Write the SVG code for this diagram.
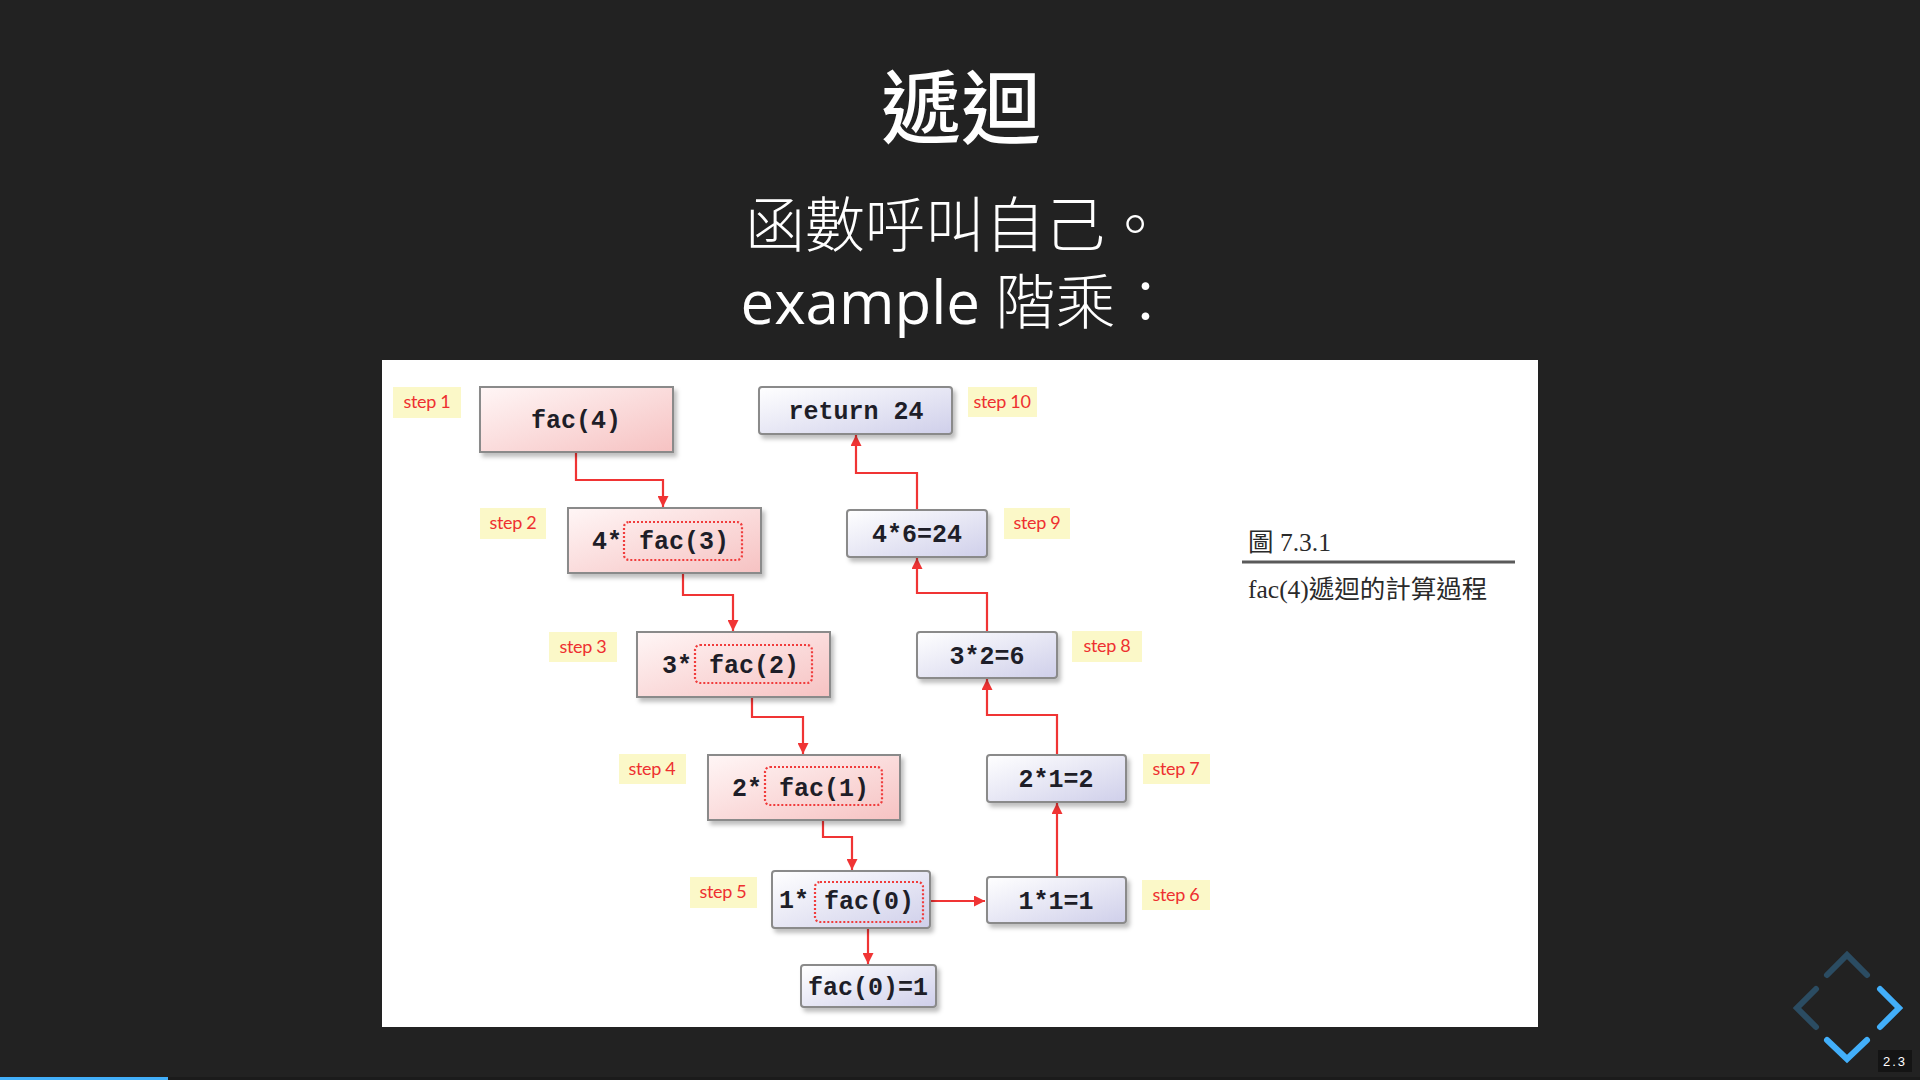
<svg xmlns="http://www.w3.org/2000/svg" width="1920" height="1080" viewBox="0 0 1920 1080">
  <defs>
    <style>
      .title { font-family: "Noto Sans CJK TC", "Noto Sans CJK SC", sans-serif; fill: #ffffff; }
      .sub { font-family: "Open Sans", "Noto Sans CJK TC", sans-serif; fill: #ffffff; font-size: 60px; }
      .thin { font-weight: 300; }
      .box-pink { fill: url(#gPink); stroke: #8a8a8a; stroke-width: 2; filter: url(#shadow); }
      .box-blue { fill: url(#gBlue); stroke: #8a8a8a; stroke-width: 2; filter: url(#shadow); }
      .inner { fill: none; stroke: #f03c3c; stroke-width: 2.2; stroke-dasharray: 2 2; }
      .code { font-family: "Liberation Mono", "Courier New", monospace; font-weight: bold; font-size: 25px; fill: #1e1e28; }
      .mid { text-anchor: middle; }
      .step-bg { fill: #fbf8c8; }
      .step { font-family: Lato, "Liberation Sans", sans-serif; font-size: 18px; fill: #ee3030; text-anchor: middle; letter-spacing: -0.3px; }
      .wire { fill: none; stroke: #f03434; stroke-width: 2.2; marker-end: url(#arrow); }
      .cap { font-family: "Liberation Serif", "Noto Sans CJK TC", serif; font-size: 25.5px; fill: #2a2a2a; }
      .nav { fill: none; stroke: #42affa; stroke-width: 6; stroke-linecap: round; stroke-linejoin: miter; }
    </style>
    <linearGradient id="gPink" x1="0" y1="0" x2="1" y2="1">
      <stop offset="0" stop-color="#fff6f6"/>
      <stop offset="1" stop-color="#f6c2c2"/>
    </linearGradient>
    <linearGradient id="gBlue" x1="0" y1="0" x2="1" y2="1">
      <stop offset="0" stop-color="#ffffff"/>
      <stop offset="1" stop-color="#cfcfea"/>
    </linearGradient>
    <filter id="shadow" x="-10%" y="-20%" width="130%" height="160%">
      <feDropShadow dx="3" dy="4" stdDeviation="2" flood-color="#000" flood-opacity="0.25"/>
    </filter>
    <marker id="arrow" viewBox="0 0 10 10" refX="10" refY="5" markerWidth="11" markerHeight="11" markerUnits="userSpaceOnUse" orient="auto">
      <path d="M0,0 L10,5 L0,10 z" fill="#f03434"/>
    </marker>
  </defs>

  <!-- slide background -->
  <rect width="1920" height="1080" fill="#222222"/>

  <!-- heading -->
  <text class="title" x="961" y="137" font-size="80" font-weight="500" text-anchor="middle">遞迴</text>
  <text class="sub thin" x="955" y="247" text-anchor="middle">函數呼叫自己。</text>
  <text class="sub" x="958" y="324" text-anchor="middle">example <tspan class="thin">階乘：</tspan></text>

  <!-- figure panel -->
  <rect x="382" y="360" width="1156" height="667" fill="#ffffff"/>

  <!-- connectors -->
  <g id="connectors">
    <path class="wire" d="M576,452 V480 H663 V507"/>
    <path class="wire" d="M683,560 V595 H733 V631"/>
    <path class="wire" d="M752,683 V717 H803 V754"/>
    <path class="wire" d="M823,805 V837 H852 V870"/>
    <path class="wire" d="M868,922 V964"/>
    <path class="wire" d="M930,901 H985"/>
    <path class="wire" d="M1057,877 V803"/>
    <path class="wire" d="M1057,755 V715 H987 V679"/>
    <path class="wire" d="M987,632 V593 H917 V558"/>
    <path class="wire" d="M917,510 V473 H856 V435"/>
  </g>

  <!-- call chain (pink) -->
  <g id="fac4">
    <rect class="box-pink" x="480" y="387" width="193" height="65"/>
    <text class="code mid" x="576" y="428">fac(4)</text>
  </g>
  <g id="fac3">
    <rect class="box-pink" x="568" y="508" width="193" height="65"/>
    <text class="code" x="592" y="549">4*</text>
    <rect class="inner" x="624" y="522" width="118" height="38" rx="5"/>
    <text class="code mid" x="684" y="549">fac(3)</text>
  </g>
  <g id="fac2">
    <rect class="box-pink" x="637" y="632" width="193" height="65"/>
    <text class="code" x="662" y="673">3*</text>
    <rect class="inner" x="695" y="645" width="117" height="38" rx="5"/>
    <text class="code mid" x="754" y="673">fac(2)</text>
  </g>
  <g id="fac1">
    <rect class="box-pink" x="708" y="755" width="192" height="65"/>
    <text class="code" x="732" y="796">2*</text>
    <rect class="inner" x="765" y="767" width="117" height="38" rx="5"/>
    <text class="code mid" x="824" y="796">fac(1)</text>
  </g>

  <!-- base case and returns (lavender) -->
  <g id="fac0">
    <rect class="box-blue" x="772" y="871" width="158" height="57" rx="3"/>
    <text class="code" x="779" y="908">1*</text>
    <rect class="inner" x="815" y="882" width="108" height="40" rx="5"/>
    <text class="code mid" x="869" y="909">fac(0)</text>
  </g>
  <g id="fac0-eq">
    <rect class="box-blue" x="801" y="965" width="135" height="42" rx="3"/>
    <text class="code mid" x="868" y="995">fac(0)=1</text>
  </g>
  <g id="r1">
    <rect class="box-blue" x="987" y="877" width="139" height="46" rx="3"/>
    <text class="code mid" x="1056" y="909">1*1=1</text>
  </g>
  <g id="r2">
    <rect class="box-blue" x="987" y="755" width="139" height="47" rx="3"/>
    <text class="code mid" x="1056" y="787">2*1=2</text>
  </g>
  <g id="r6">
    <rect class="box-blue" x="917" y="632" width="140" height="46" rx="3"/>
    <text class="code mid" x="987" y="664">3*2=6</text>
  </g>
  <g id="r24">
    <rect class="box-blue" x="847" y="510" width="140" height="47" rx="3"/>
    <text class="code mid" x="917" y="542">4*6=24</text>
  </g>
  <g id="ret">
    <rect class="box-blue" x="759" y="387" width="193" height="47" rx="3"/>
    <text class="code mid" x="856" y="419">return 24</text>
  </g>

  <!-- step tags -->
  <g id="step1"><rect class="step-bg" x="393" y="387" width="68" height="31"/><text class="step" x="427" y="408">step 1</text></g>
  <g id="step2"><rect class="step-bg" x="480" y="508" width="66" height="31"/><text class="step" x="513" y="529">step 2</text></g>
  <g id="step3"><rect class="step-bg" x="549" y="632" width="68" height="30"/><text class="step" x="583" y="653">step 3</text></g>
  <g id="step4"><rect class="step-bg" x="619" y="754" width="67" height="30"/><text class="step" x="652" y="775">step 4</text></g>
  <g id="step5"><rect class="step-bg" x="690" y="877" width="67" height="31"/><text class="step" x="723" y="898">step 5</text></g>
  <g id="step6"><rect class="step-bg" x="1142" y="880" width="68" height="30"/><text class="step" x="1176" y="901">step 6</text></g>
  <g id="step7"><rect class="step-bg" x="1143" y="754" width="67" height="30"/><text class="step" x="1176" y="775">step 7</text></g>
  <g id="step8"><rect class="step-bg" x="1072" y="631" width="70" height="31"/><text class="step" x="1107" y="652">step 8</text></g>
  <g id="step9"><rect class="step-bg" x="1004" y="508" width="66" height="31"/><text class="step" x="1037" y="529">step 9</text></g>
  <g id="step10"><rect class="step-bg" x="968" y="387" width="69" height="30"/><text class="step" x="1002" y="408">step 10</text></g>

  <!-- figure caption -->
  <g id="caption">
    <text class="cap" x="1248" y="551">圖 7.3.1</text>
    <line x1="1242" y1="562" x2="1515" y2="562" stroke="#5a5a5a" stroke-width="3"/>
    <text class="cap" x="1248" y="598">fac(4)遞迴的計算過程</text>
  </g>

  <!-- navigation controls -->
  <g id="controls">
    <polyline class="nav" points="1827,975 1847,955 1867,975" opacity="0.3"/>
    <polyline class="nav" points="1816,989 1797,1008 1816,1027" opacity="0.3"/>
    <polyline class="nav" points="1880,989 1899,1008 1880,1027"/>
    <polyline class="nav" points="1827,1040 1847,1059 1867,1040"/>
  </g>
  <g id="slide-number">
    <rect x="1878" y="1050" width="34" height="22" fill="#000000" opacity="0.4"/>
    <text x="1895" y="1066" font-family="'Liberation Sans', sans-serif" font-size="13" fill="#ffffff" text-anchor="middle" letter-spacing="2">2.3</text>
  </g>

  <!-- progress bar -->
  <rect x="0" y="1077" width="1920" height="3" fill="#000000" opacity="0.2"/>
  <rect x="0" y="1077" width="168" height="3" fill="#42affa"/>
</svg>
